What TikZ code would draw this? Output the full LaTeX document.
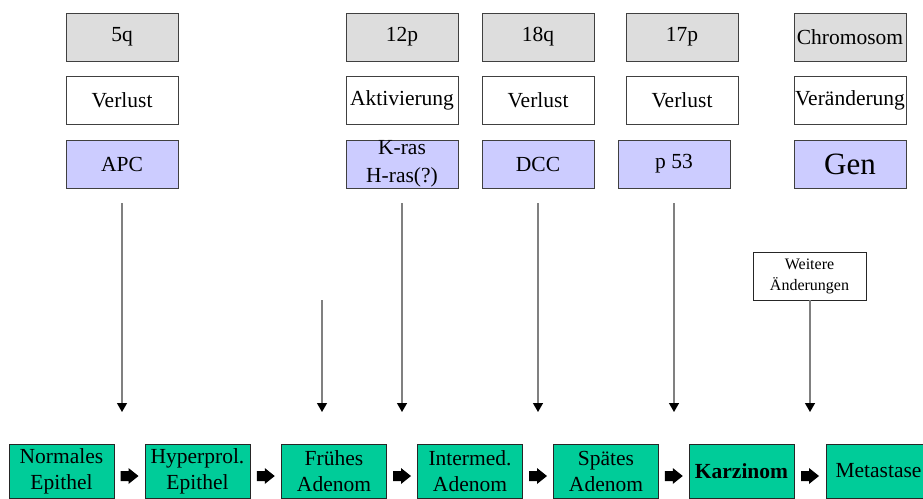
\documentclass[tikz,border=0pt]{standalone}
\usepackage{fontspec}
\setmainfont{Liberation Serif}
\usetikzlibrary{arrows.meta,calc}
\definecolor{chromgray}{HTML}{DDDDDD}
\definecolor{genblue}{HTML}{CCCCFF}
\definecolor{stagegreen}{HTML}{00CC99}
\definecolor{edgegray}{HTML}{404040}
\definecolor{linegray}{HTML}{808080}
\tikzset{
  topbox/.style={draw=edgegray, line width=0.9pt, minimum width=112pt, minimum height=48pt,
    inner sep=0pt, align=center, font=\fontsize{21.5}{26}\selectfont},
  chrombox/.style={topbox, fill=chromgray},
  changebox/.style={topbox, fill=white},
  genbox/.style={topbox, fill=genblue, font=\fontsize{21.5}{29}\selectfont},
  stagebox/.style={draw=black!85, line width=0.9pt, fill=stagegreen, minimum width=105pt,
    minimum height=54pt, inner sep=0pt, align=center, font=\fontsize{21.5}{26}\selectfont},
  notebox/.style={draw=black!85, line width=0.8pt, fill=white, minimum width=113pt,
    minimum height=48pt, inner sep=0pt, align=center, font=\fontsize{16}{21}\selectfont},
  vline/.style={draw=linegray, line width=1.3pt,
    -{Triangle[width=10pt,length=9pt,color=black]}},
  blockarr/.pic={\fill[black] (-9,-5) -- (-1,-5) -- (-1,-8) -- (9,0) -- (-1,8) -- (-1,5) -- (-9,5) -- cycle;}
}
\begin{document}
\begin{tikzpicture}[x=1pt,y=-1pt]
\useasboundingbox (0,0) rectangle (923,498);
\clip (0,0) rectangle (923,498);
% top rows
\node[chrombox] (c5q) at (122,37) {5q};
\node[chrombox] (c12p) at (402,37) {12p};
\node[chrombox] (c18q) at (538,37) {18q};
\node[chrombox] (c17p) at (682,37) {17p};
\node[chrombox] (cchr) at (850,37) {Chromosom};
\node[changebox] (v5q) at (122,100) {Verlust};
\node[changebox] (v12p) at (402,100) {Aktivierung};
\node[changebox] (v18q) at (538,100) {Verlust};
\node[changebox] (v17p) at (682,100) {Verlust};
\node[changebox] (vchr) at (850,100) {Veränderung};
\node[genbox] (gapc) at (122,164) {APC};
\node[genbox] (gras) at (402,164) {K-ras\\[-1pt]H-ras(?)};
\node[genbox] (gdcc) at (538,164) {DCC};
\node[genbox] (gp53) at (674,164) {p 53};
\node[genbox, font=\fontsize{31}{36}\selectfont] (ggen) at (850,164) {Gen};
\node[notebox] (weit) at (809.5,276) {Weitere\\Änderungen};
% stages
\node[stagebox] (s1) at (61.5,471) {Normales\\Epithel};
\node[stagebox] (s2) at (197.5,471) {Hyperprol.\\Epithel};
\node[stagebox] (s3) at (334,471) {Frühes\\Adenom};
\node[stagebox] (s4) at (470,471) {Intermed.\\Adenom};
\node[stagebox] (s5) at (606,471) {Spätes\\Adenom};
\node[stagebox] (s6) at (741.5,471) {\textbf{Karzinom}};
\node[stagebox] (s7) at (878.5,471) {Metastase};
% block arrows between stages
\foreach \a/\b in {s1/s2,s2/s3,s3/s4,s4/s5,s5/s6,s6/s7}
  \pic at ($(\a.east)!0.5!(\b.west)+(0,5)$) {blockarr};
% vertical arrows
\coordinate (t1) at (122,412);
\coordinate (t2) at (322,412);
\coordinate (t2s) at (322,300);
\coordinate (t3) at (402,412);
\coordinate (t4) at (538,412);
\coordinate (t5) at (674,412);
\coordinate (t6) at (810,412);
\draw[vline, shorten <=15pt] (gapc.south) -- (t1);
\draw[vline] (t2s) -- (t2);
\draw[vline, shorten <=15pt] (gras.south) -- (t3);
\draw[vline, shorten <=15pt] (gdcc.south) -- (t4);
\draw[vline, shorten <=15pt] (gp53.south) -- (t5);
\draw[vline] (weit.south -| t6) -- (t6);
\end{tikzpicture}
\end{document}
